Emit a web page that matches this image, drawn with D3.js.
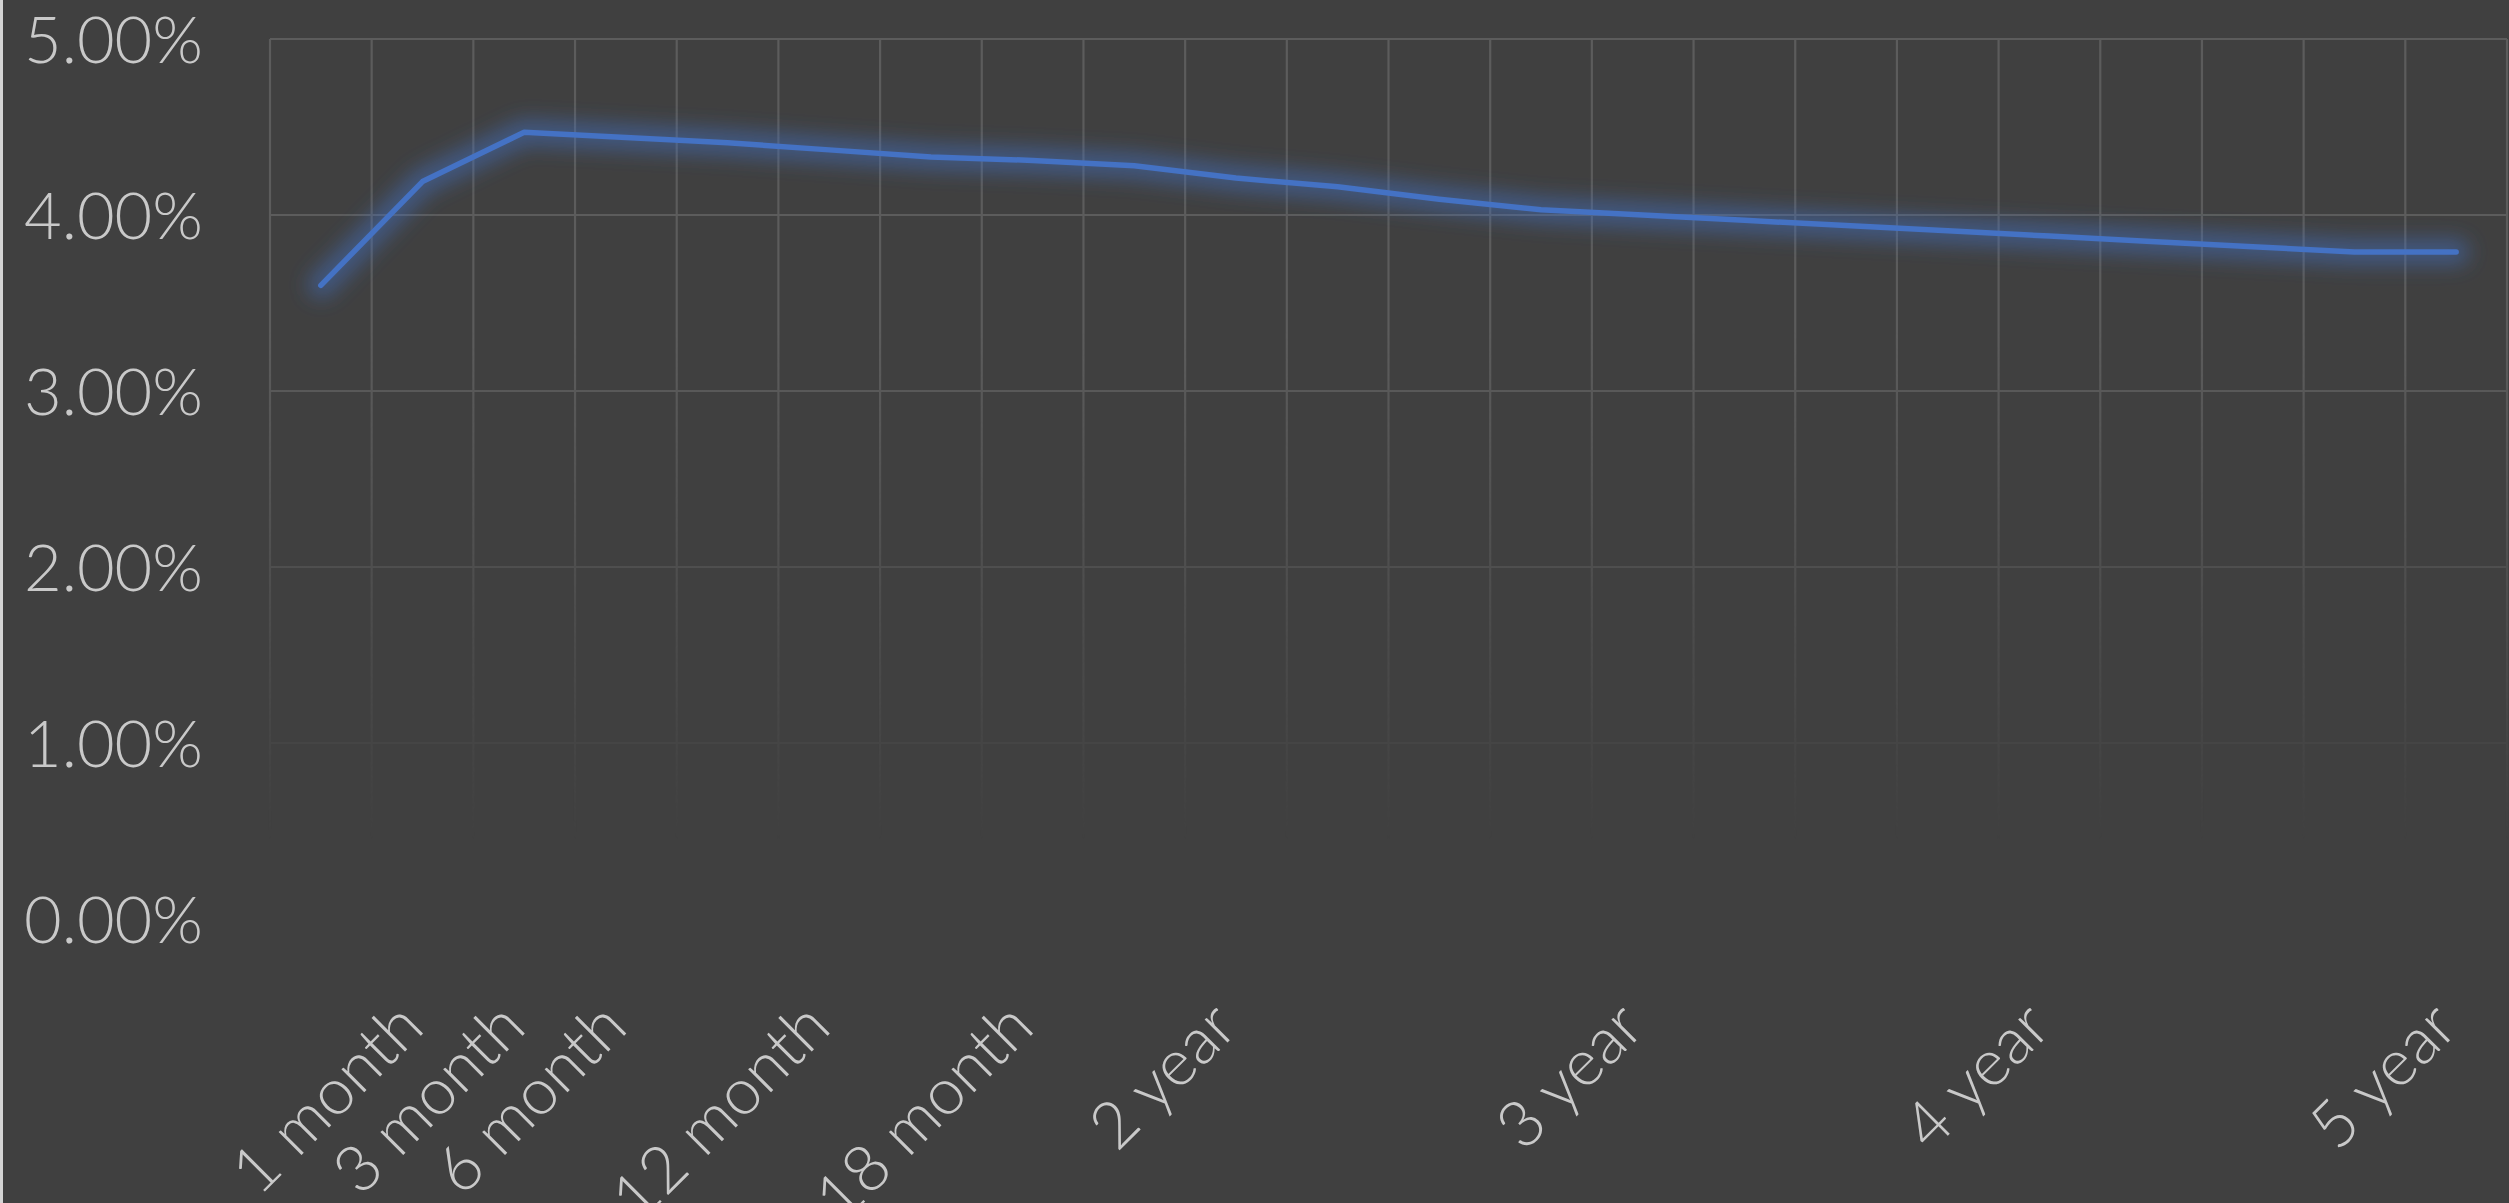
<!DOCTYPE html>
<html>
<head>
<meta charset="utf-8">
<script src="https://cdn.jsdelivr.net/npm/d3@7"></script>
<style>
  html, body { margin: 0; padding: 0; background: #404040; overflow: hidden; }
  svg { display: block; }
</style>
</head>
<body>
<svg id="chart"></svg>
<script>
// Term buckets (quarterly steps); only the headline terms carry a label.
const terms = ["", "1 month", "3 month", "6 month", "", "12 month", "", "18 month", "",
               "2 year", "", "", "", "3 year", "", "", "", "4 year", "", "", "", "5 year"];

// Rate for each bucket, as a fraction.
const rates = [0.0360, 0.0419, 0.0447, 0.0444, 0.0441, 0.0437, 0.0433, 0.0431, 0.0428,
               0.0421, 0.0416, 0.0409, 0.0403, 0.0400, 0.0397, 0.0394, 0.0391, 0.0388,
               0.0385, 0.0382, 0.0379, 0.0379];

// Value-axis ticks.
const rateTicks = [0, 0.01, 0.02, 0.03, 0.04, 0.05];

const W = 2509, H = 1203;
const plot = { left: 270, right: 2507, top: 39, bottom: 919 };
const fontFamily = "Lato, 'Open Sans', sans-serif";
const textColor = "#c9c9c9";
const gridColor = "#5c5c5c";
const lineColor = "#4472C4";

const svg = d3.select("#chart").attr("width", W).attr("height", H);
svg.append("rect").attr("width", W).attr("height", H).attr("fill", "#404040");
svg.append("rect").attr("x", 0).attr("y", 0).attr("width", 3).attr("height", H).attr("fill", "#d4d4d4");

const x = d3.scaleBand()
  .domain(d3.range(rates.length))
  .range([plot.left, plot.right])
  .paddingInner(0).paddingOuter(0);
const y = d3.scaleLinear().domain([0, 0.05]).range([plot.bottom, plot.top]);
const cx = i => x(i) + x.bandwidth() / 2;

const defs = svg.append("defs");

// Gridlines fade out toward the bottom of the plot.
const fade = defs.append("linearGradient")
  .attr("id", "gridFade").attr("gradientUnits", "userSpaceOnUse")
  .attr("x1", 0).attr("x2", 0).attr("y1", 330).attr("y2", 840);
fade.append("stop").attr("offset", 0).attr("stop-color", "#fff");
fade.append("stop").attr("offset", 1).attr("stop-color", "#000");
defs.append("mask").attr("id", "gridMask")
  .attr("maskUnits", "userSpaceOnUse").attr("x", 0).attr("y", 0).attr("width", W).attr("height", H)
  .append("rect").attr("width", W).attr("height", H).attr("fill", "url(#gridFade)");

// Soft glow under the series line.
const glow = defs.append("filter").attr("id", "glow")
  .attr("x", "-10%").attr("y", "-60%").attr("width", "120%").attr("height", "220%");
glow.append("feGaussianBlur").attr("stdDeviation", 10);

const grid = svg.append("g").attr("mask", "url(#gridMask)")
  .attr("stroke", gridColor).attr("stroke-width", 2.2);

const edges = x.domain().map(i => x(i)).concat([plot.right]);
grid.selectAll("line.v").data(edges).join("line").attr("class", "v")
  .attr("x1", d => d).attr("x2", d => d)
  .attr("y1", plot.top).attr("y2", plot.bottom);

grid.selectAll("line.h").data(rateTicks).join("line").attr("class", "h")
  .attr("x1", plot.left).attr("x2", plot.right)
  .attr("y1", d => y(d)).attr("y2", d => y(d));

// Value axis labels.
const yAxis = d3.axisLeft(y).tickValues(rateTicks).tickFormat(d3.format(".2%"))
  .tickSize(0).tickPadding(67);
const yg = svg.append("g").attr("transform", `translate(${plot.left},0)`).call(yAxis);
yg.select(".domain").remove();
yg.selectAll("text")
  .attr("fill", textColor).attr("font-family", fontFamily).attr("font-size", 65)
  .attr("font-weight", 300).attr("dy", "0.36em");

// Category labels, rotated.
svg.append("g").selectAll("text")
  .data(terms.map((t, i) => ({ t, i })).filter(d => d.t !== ""))
  .join("text")
  .attr("transform", d => `translate(${cx(d.i) + 4},${1030}) rotate(-45)`)
  .attr("text-anchor", "end")
  .attr("fill", textColor).attr("font-family", fontFamily).attr("font-size", 65)
  .attr("font-weight", 300)
  .text(d => d.t);

const line = d3.line().x((d, i) => cx(i)).y(d => y(d));

svg.append("path").datum(rates)
  .attr("d", line).attr("fill", "none")
  .attr("stroke", lineColor).attr("stroke-width", 26).attr("stroke-opacity", 0.5)
  .attr("stroke-linejoin", "round").attr("stroke-linecap", "round")
  .attr("filter", "url(#glow)");

svg.append("path").datum(rates)
  .attr("d", line).attr("fill", "none")
  .attr("stroke", lineColor).attr("stroke-width", 5.5)
  .attr("stroke-linejoin", "round").attr("stroke-linecap", "round");
</script>
</body>
</html>
